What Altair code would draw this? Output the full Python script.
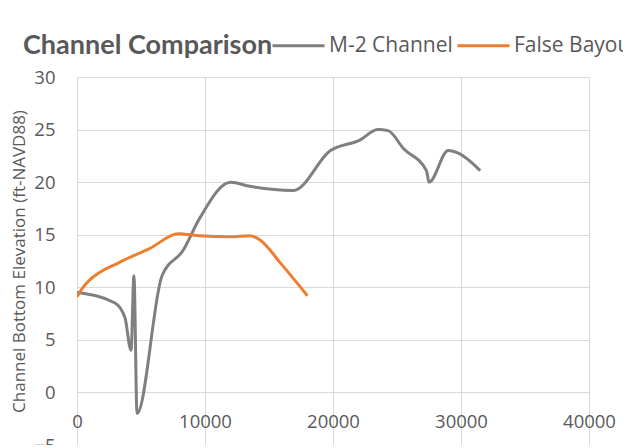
import altair as alt
import pandas as pd

m2_x = [0, 2970, 3750, 4220, 4450, 4690, 6640, 8280, 9600, 12000, 13500, 16900, 19800, 22100, 23500, 24300, 25500, 27300, 27500, 29000, 29700, 31500]
m2_y = [9.5, 8.5, 7.1, 4.0, 11.1, -2.0, 11.1, 13.5, 16.6, 20.0, 19.6, 19.2, 23.0, 24.0, 25.0, 24.9, 23.2, 21.1, 20.0, 23.0, 22.8, 21.1]

fb_x = [0, 470, 1000, 3360, 5700, 7900, 9600, 11950, 13500, 14300, 15900, 18000]
fb_y = [9.1, 10.0, 10.7, 12.4, 13.7, 15.1, 14.9, 14.8, 14.9, 14.5, 12.3, 9.2]

series_names = ["M-2 Channel", "False Bayou"]
series_colors = ["#7f7f7f", "#ed7d31"]

rows = []
for i, (x, y) in enumerate(zip(m2_x, m2_y)):
    rows.append({"series": series_names[0], "x": x, "y": y, "i": i})
for i, (x, y) in enumerate(zip(fb_x, fb_y)):
    rows.append({"series": series_names[1], "x": x, "y": y, "i": i})
df = pd.DataFrame(rows)

txt = "#595959"

chart = alt.Chart(df).mark_line(strokeWidth=3, interpolate="monotone", clip=True).encode(
    x=alt.X("x:Q", scale=alt.Scale(domain=[0, 40000], nice=False),
            axis=alt.Axis(values=[0, 10000, 20000, 30000, 40000], format="d", title=None,
                          offset=-53, domain=False, ticks=False, labelPadding=20,
                          labelFontSize=18.5, labelColor=txt, labelFont="Open Sans",
                          gridColor="#d9d9d9", labelFlush=False)),
    y=alt.Y("y:Q", scale=alt.Scale(domain=[-5, 30], nice=False),
            axis=alt.Axis(values=[-5, 0, 5, 10, 15, 20, 25, 30], title="Channel Bottom Elevation (ft-NAVD88)",
                          domain=False, ticks=False, labelPadding=22,
                          labelFontSize=18.5, labelColor=txt, labelFont="Open Sans",
                          titleFontSize=17, titleColor=txt, titleFont="Open Sans", titleFontWeight="normal",
                          titlePadding=5, gridColor="#d9d9d9")),
    color=alt.Color("series:N", scale=alt.Scale(domain=series_names, range=series_colors),
                    legend=alt.Legend(title=None, orient="none", legendX=194, legendY=-59,
                                      direction="horizontal", symbolType="stroke",
                                      symbolStrokeWidth=3, symbolSize=2704,
                                      labelFontSize=21, labelColor=txt, labelFont="Open Sans",
                                      columnPadding=-2, labelOffset=3)),
    order="i:Q",
).properties(
    width=512, height=368,
    title=alt.TitleParams("Channel Comparison", anchor="start", frame="group", dx=-54, dy=62, offset=20,
                          fontSize=27, font="Lato", fontWeight="bold", color=txt),
    autosize=alt.AutoSizeParams(type="none"),
    padding={"left": 69, "top": 69, "right": 34, "bottom": 0},
).configure_view(stroke=None)

chart.save("out.html", embed_options={"renderer": "svg", "actions": False})
